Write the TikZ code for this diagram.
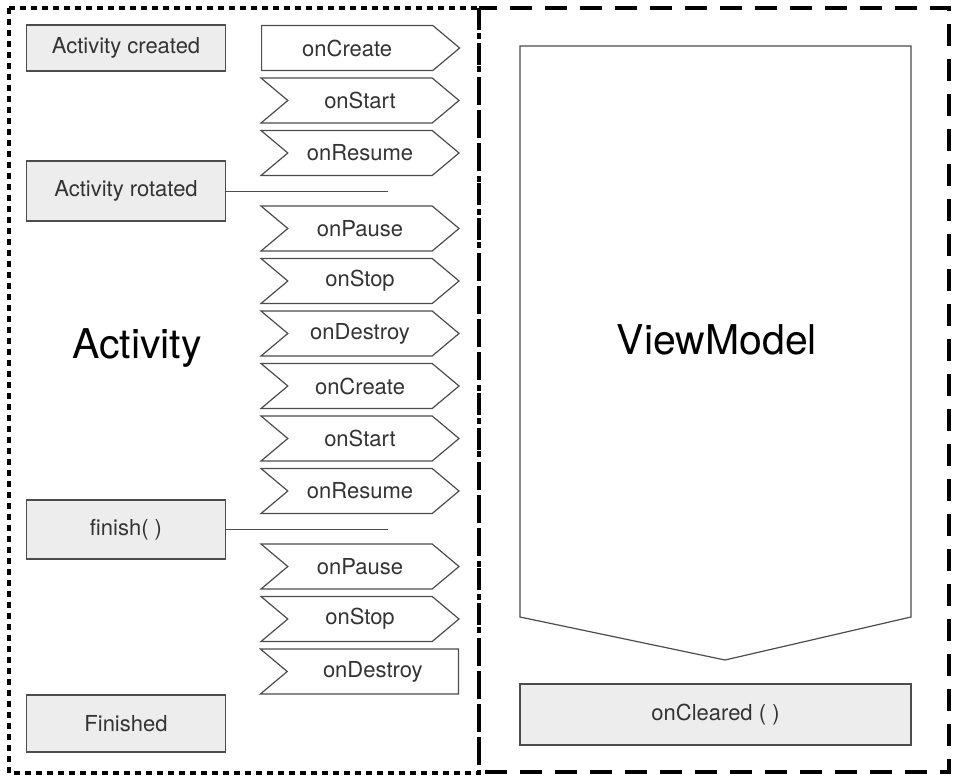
\documentclass[tikz,border=0pt]{standalone}
\usepackage{fontspec}
\setmainfont{TeX Gyre Heros}
\usetikzlibrary{shapes.symbols}
\begin{document}
\begin{tikzpicture}[x=1pt,y=-1pt]
	\tikzstyle{etat}=[draw=black!70,fill=black!7,line width=1.2pt,minimum width=199pt,inner sep=0pt,text=black!80,font=\fontsize{22}{26}\selectfont]
	\tikzstyle{rappel}=[signal,draw=black!70,line width=1.2pt,signal pointer angle=80,minimum width=198pt,minimum height=45pt,inner sep=0pt,text=black!80,font=\fontsize{22}{26}\selectfont]
	\tikzstyle{milieu}=[rappel,signal from=west,signal to=east]
	\tikzstyle{titre}=[font=\fontsize{41}{48}\selectfont]
	\useasboundingbox (0,0) rectangle (959,782);
	% cadres
	\draw[line width=3.2pt,dash pattern=on 6pt off 5pt] (9,8) rectangle (479,773);
	\draw[line width=3.2pt,dash pattern=on 22pt off 13pt] (479,8) rectangle (949,772);
	% etats de l'activite
	\node[etat,minimum height=46pt] (A) at (126,48){Activity created};
	\node[etat,minimum height=60pt] (B) at (126,191){Activity rotated};
	\node[etat,minimum height=59pt] (C) at (126,529.5){finish( )};
	\node[etat,minimum height=57pt] (D) at (126,723.5){Finished};
	% appels
	\node[rappel,signal to=east,anchor=west] (C1) at (261,48){onCreate};
	\node[milieu] (C2) at (360,100.5){onStart};
	\node[milieu] (C3) at (360,153){onResume};
	\node[milieu] (C4) at (360,228.5){onPause};
	\node[milieu] (C5) at (360,281){onStop};
	\node[milieu] (C6) at (360,333.5){onDestroy};
	\node[milieu] (C7) at (360,386){onCreate};
	\node[milieu] (C8) at (360,438.5){onStart};
	\node[milieu] (C9) at (360,491){onResume};
	\node[milieu] (C10) at (360,566.5){onPause};
	\node[milieu] (C11) at (360,619){onStop};
	\node[rappel,signal from=west,signal to=nowhere,anchor=east] (C12) at (459,671.5){onDestroy};
	\coordinate (R1) at (388,191);
	\coordinate (R2) at (388,529.5);
	\draw[black!70,line width=1pt] (B.east) -- (R1);
	\draw[black!70,line width=1pt] (C.east) -- (R2);
	% ViewModel
	\draw[black!70,line width=1.2pt] (520,46) -- (911,46) -- (911,617) -- (725,660) -- (520,617) -- cycle;
	\node[etat,minimum width=391pt,minimum height=61pt] (E) at (715.5,714.5){onCleared ( )};
	\node[titre] (T1) at (137,348){Activity};
	\node[titre] (T2) at (717,340){ViewModel};
\end{tikzpicture}
\end{document}
